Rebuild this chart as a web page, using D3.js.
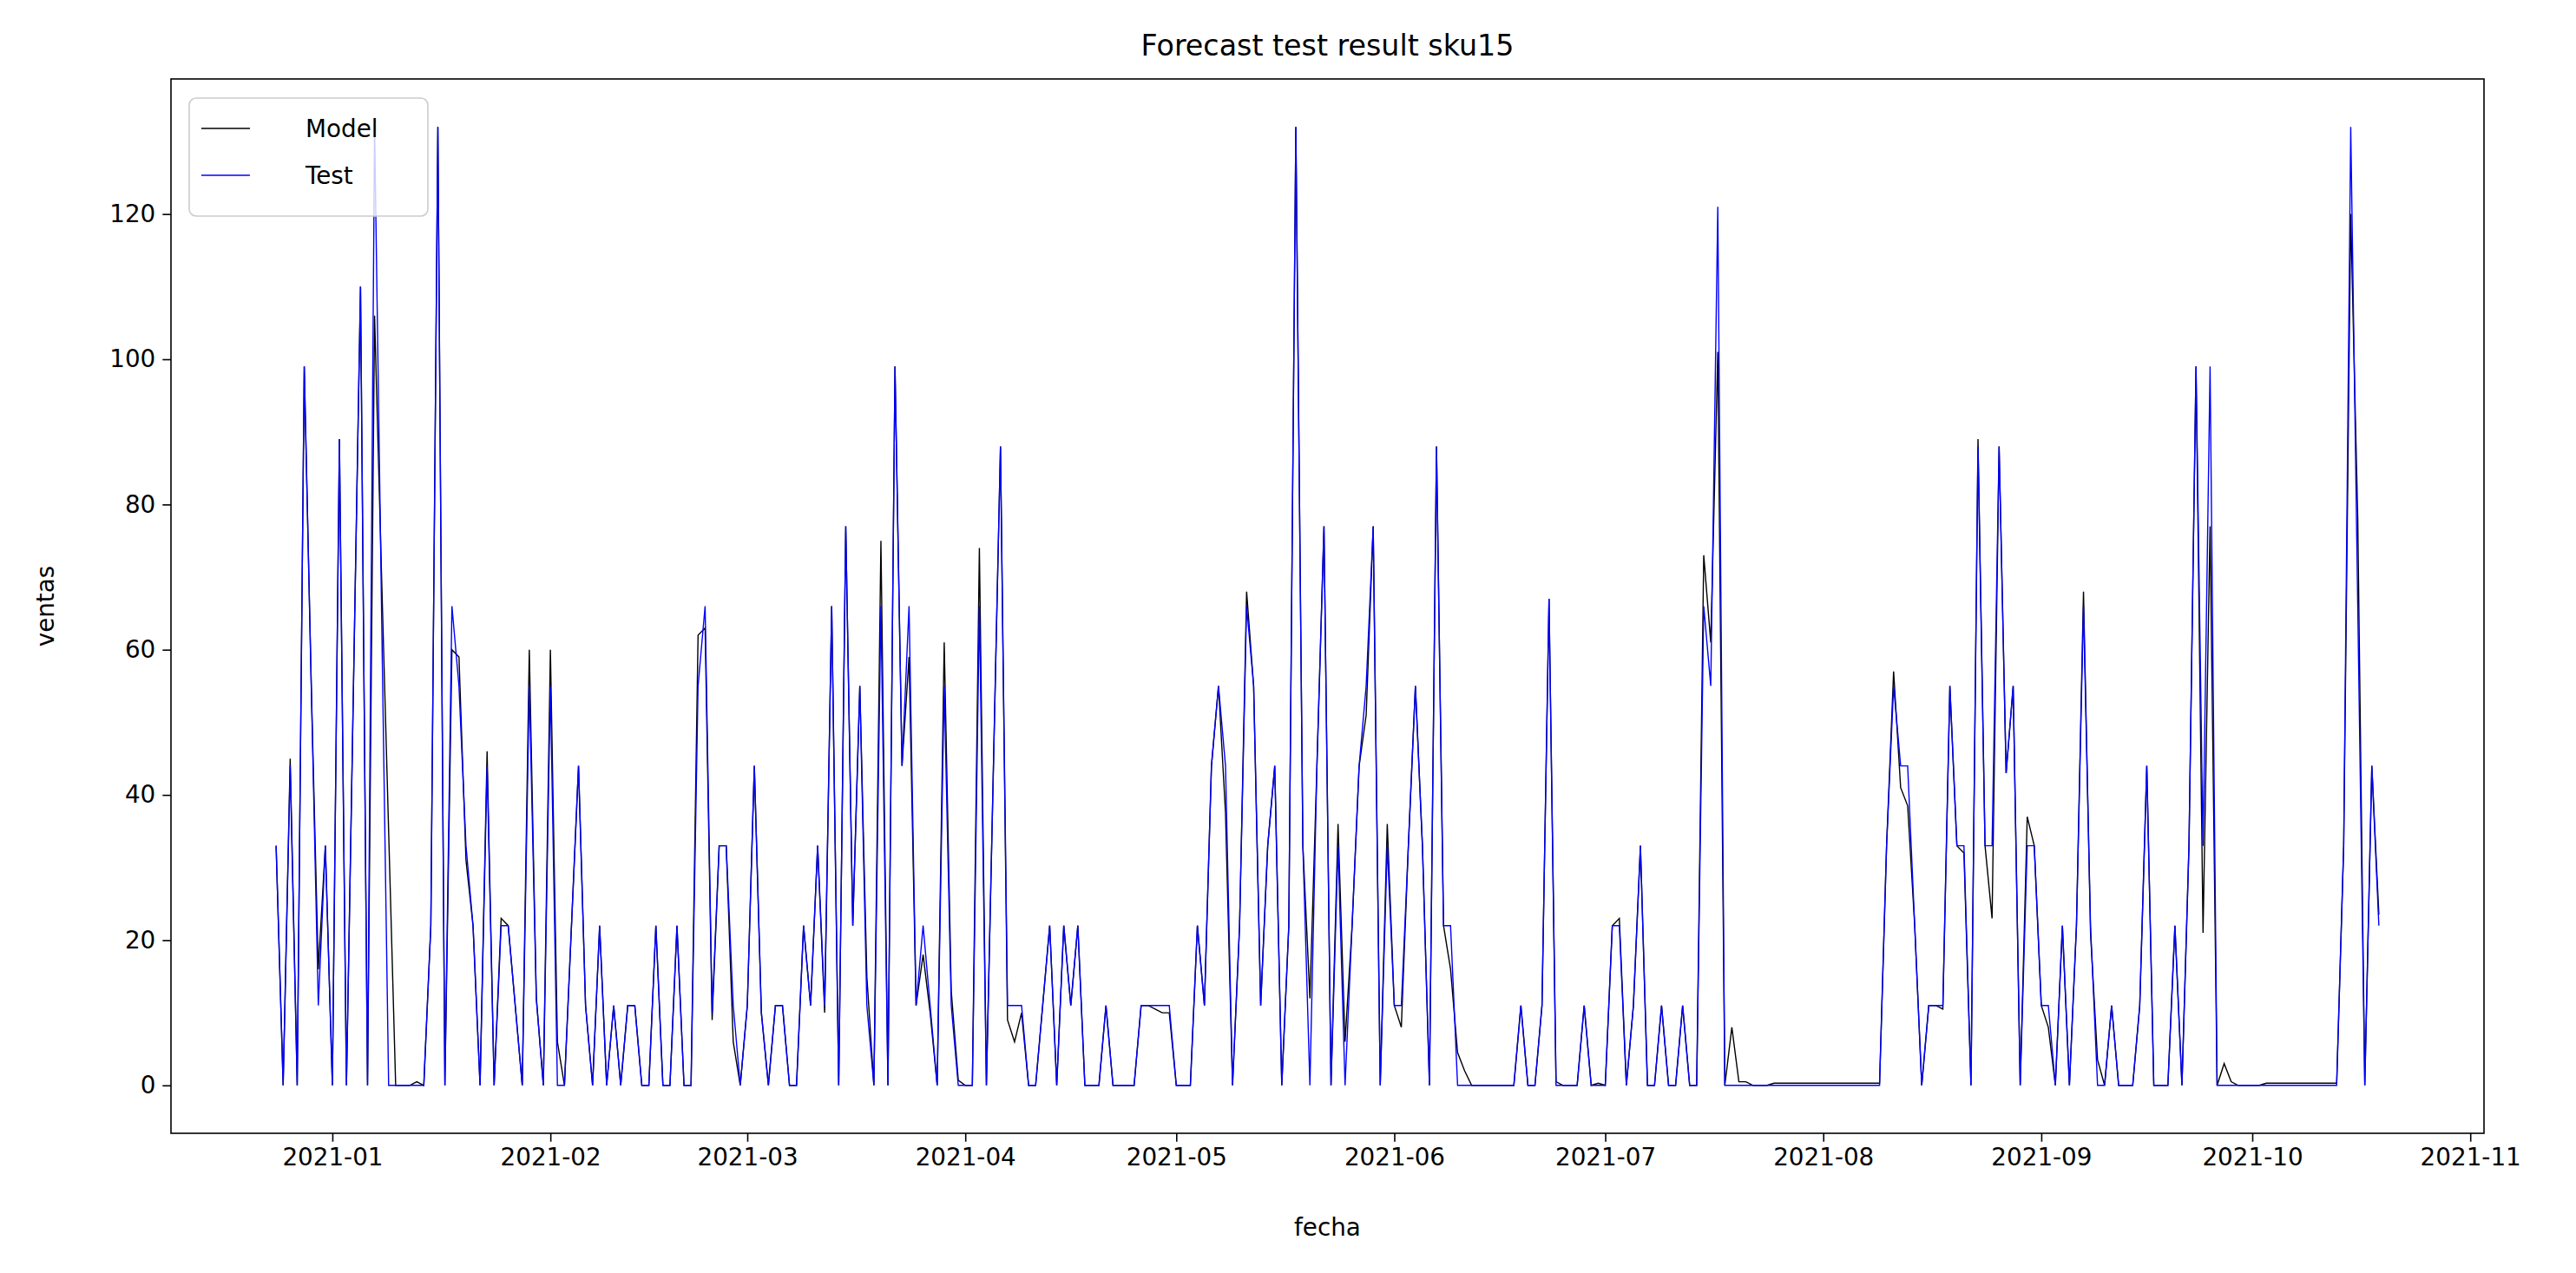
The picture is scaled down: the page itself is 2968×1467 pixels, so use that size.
<!DOCTYPE html>
<html>
<head>
<meta charset="utf-8">
<script src="https://cdn.jsdelivr.net/npm/d3@7"></script>
<style>
  body { margin: 0; background: #fff; }
  text { font-family: "DejaVu Sans", sans-serif; }
</style>
</head>
<body>
<svg id="chart" width="2968" height="1467"></svg>
<script>
// daily series, starting 2020-12-24
const startDate = "2020-12-24";
const testValues = [
  33,0,44,0,99,55,11,33,0,89, 0,55,110,0,132,65,0,0,0,0, 0,0,22,132,0,66,55,33,22,0,
  44,0,22,22,11,0,55,12,0,55, 0,0,22,44,11,0,22,0,11,0, 11,11,0,0,22,0,0,22,0,0,
  55,66,10,33,33,11,0,11,44,10, 0,11,11,0,0,22,11,33,11,66, 0,77,22,55,11,0,66,0,99,44,
  66,11,22,11,0,55,11,0,0,0, 66,0,44,88,11,11,11,0,0,11, 22,0,22,11,22,0,0,0,11,0,
  0,0,0,11,11,11,11,11,0,0, 0,22,11,44,55,44,0,22,66,55, 11,33,44,0,22,132,33,0,44,77,
  0,33,0,22,44,55,77,0,33,11, 11,33,55,33,0,88,22,22,0,0, 0,0,0,0,0,0,0,11,0,0, 11,
  67,0,0,0,0,11,0,0,0,22, 22,0,11,33,0,0,11,0,0,11, 0,0,66,55,121,0,0,0,0,0,
  0,0,0,0,0,0,0,0,0,0, 0,0,0,0,0,0,0,0,33,55, 44,44,22,0,11,11,11,55,33,33,
  0,88,33,33,88,43,55,0,33,33, 11,11,0,22,0,22,66,22,0,0, 11,0,0,0,11,44,0,0,0,22,
  0,33,99,33,99,0,0,0,0,0, 0,0,0,0,0,0,0,0,0,0, 0,0,0,33,132,66,0,44,22
];
const modelValues = [
  33,0,45,0,99,55,16,33,0,89, 0,55,110,0,106,70,35,0,0,0, 0.5,0,22,132,0,60,59,31,22,0,
  46,0,23,22,11,0,60,12,0,60, 6,0,22,44,11,0,22,0,11,0, 11,11,0,0,22,0,0,22,0,0,
  62,63,9,33,33,6,0,11,44,10, 0,11,11,0,0,22,11,33,10,66, 0,77,22,55,15,0,75,0,99,44,
  59,11,18,10,0,61,13,0.7,0,0, 74,0,44,88,9,6,10,0,0,11, 22,0,22,11,22,0,0,0,11,0,
  0,0,0,11,11,10.5,10,10,0,0, 0,22,11,44,55,37.5,0,22,68,55, 11,33,44,0,22,132,33,12,44,77,
  0,36,6,22,44,51,77,0,36,11, 8,33,55,33,0,88,22,16,4.5,2, 0,0,0,0,0,0,0,11,0,0, 11,
  67,0.5,0,0,0,11,0,0.3,0,22, 23,0,11,33,0,0,11,0,0,11, 0,0,73,61,101,0,8,0.5,0.5,0,
  0,0,0.3,0.3,0.3,0.3,0.3,0.3,0.3,0.3, 0.3,0.3,0.3,0.3,0.3,0.3,0.3,0.3,33,57, 41,38.5,22,0,11,11,10.5,55,33,32,
  0,89,33,23,88,43,55,0,37,33, 11,8,0,22,0,22,68,21,3.5,0, 11,0,0,0,11,44,0,0,0,22,
  0,33,99,21,77,0,3,0.5,0,0, 0,0,0.3,0.3,0.3,0.3,0.3,0.3,0.3,0.3, 0.3,0.3,0.3,33,120,78,0,44,23.5
];
const yTicks = [0, 20, 40, 60, 80, 100, 120];
const xTickMonths = ["2021-01","2021-02","2021-03","2021-04","2021-05","2021-06","2021-07","2021-08","2021-09","2021-10","2021-11"];
const seriesNames = ["Model", "Test"];
const seriesColors = ["#000000", "#0000ff"];

const parse = d3.utcParse("%Y-%m-%d");
const start = parse(startDate);
const dates = testValues.map((d, i) => d3.utcDay.offset(start, i));

const plotL = 197, plotR = 2862, plotT = 91, plotB = 1306;
const svg = d3.select("#chart");

// matplotlib-style 5% padding on both axes
const t0 = dates[0].getTime(), t1 = dates[dates.length - 1].getTime();
const padT = (t1 - t0) * 0.05;
const x = d3.scaleUtc().domain([new Date(t0 - padT), new Date(t1 + padT)]).range([plotL, plotR]);
const allVals = testValues.concat(modelValues);
const yMax = d3.max(allVals), yMin = d3.min(allVals);
const padY = (yMax - yMin) * 0.05;
const y = d3.scaleLinear().domain([yMin - padY, yMax + padY]).range([plotB, plotT]);

// axes
const fmt = d3.utcFormat("%Y-%m");
const xAxis = svg.append("g")
    .attr("transform", `translate(0,${plotB})`)
    .call(d3.axisBottom(x).tickValues(xTickMonths.map(m => parse(m + "-01")))
      .tickFormat(fmt).tickSize(9.7).tickPadding(8));
const yAxis = svg.append("g")
    .attr("transform", `translate(${plotL},0)`)
    .call(d3.axisLeft(y).tickValues(yTicks).tickSize(9.7).tickPadding(8));
[xAxis, yAxis].forEach(a => {
  a.select(".domain").remove();
  a.selectAll(".tick line").attr("stroke", "#000").attr("stroke-width", 1.6);
  a.selectAll(".tick text").attr("font-size", 27.8).attr("fill", "#000")
    .attr("font-family", "DejaVu Sans");
});

// lines: model first, test on top
const line = d3.line().x((d, i) => x(dates[i])).y(d => y(d));
[modelValues, testValues].forEach((vals, k) => {
  svg.append("path").datum(vals)
    .attr("d", line)
    .attr("fill", "none")
    .attr("stroke", seriesColors[k])
    .attr("stroke-width", 1.4)
    .attr("stroke-linejoin", "miter");
});

// frame
svg.append("rect")
  .attr("x", plotL).attr("y", plotT)
  .attr("width", plotR - plotL).attr("height", plotB - plotT)
  .attr("fill", "none").attr("stroke", "#000").attr("stroke-width", 1.6);

// titles
svg.append("text").attr("x", (plotL + plotR) / 2).attr("y", 64)
  .attr("text-anchor", "middle").attr("font-size", 33.3)
  .text("Forecast test result sku15");
svg.append("text").attr("x", (plotL + plotR) / 2).attr("y", 1424)
  .attr("text-anchor", "middle").attr("font-size", 27.8).text("fecha");
svg.append("text").attr("transform", `translate(62,${(plotT + plotB) / 2}) rotate(-90)`)
  .attr("text-anchor", "middle").attr("font-size", 27.8).text("ventas");

// legend
const lg = svg.append("g");
lg.append("rect").attr("x", 218).attr("y", 113).attr("width", 275).attr("height", 136)
  .attr("rx", 8).attr("fill", "#fff").attr("fill-opacity", 0.8)
  .attr("stroke", "#cccccc").attr("stroke-width", 1.6);
seriesNames.forEach((n, i) => {
  const yy = 148 + i * 54;
  lg.append("line").attr("x1", 232).attr("x2", 288).attr("y1", yy).attr("y2", yy)
    .attr("stroke", seriesColors[i]).attr("stroke-width", 1.4);
  lg.append("text").attr("x", 352).attr("y", yy + 10).attr("font-size", 27.8).text(n);
});
</script>
</body>
</html>
